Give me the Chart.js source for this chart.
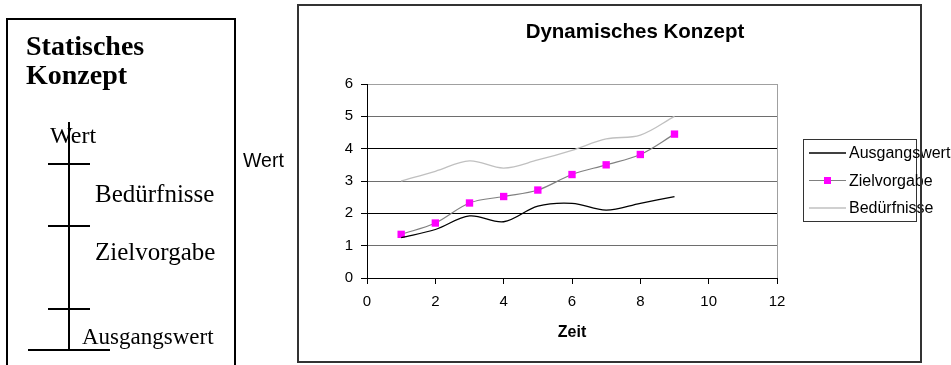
<!DOCTYPE html>
<html>
<head>
<meta charset="utf-8">
<script src="https://cdn.jsdelivr.net/npm/chart.js@4.4.0/dist/chart.umd.min.js"></script>
<style>
  html, body { margin: 0; padding: 0; background: #fff; }
  body { width: 951px; height: 365px; position: relative; overflow: hidden; }
  #chartCanvas { position: absolute; left: 0; top: 0; }
  #frame { position: absolute; left: 297px; top: 4px; width: 621px; height: 355px; border: 2px solid #333; pointer-events: none; }
  #staticBox { position: absolute; left: 6px; top: 18px; width: 226px; height: 400px; border: 2px solid #000; border-bottom: none; font-family: "Liberation Serif", "Times New Roman", serif; }
  .bar { position: absolute; background: #000; }
  .lbl { position: absolute; font-size: 24px; line-height: 24px; white-space: nowrap; color: #000; font-family: "Liberation Serif", "Times New Roman", serif; }
  #staticTitle { position: absolute; left: 18px; top: 11px; font-size: 28px; line-height: 29px; font-weight: bold; }
</style>
</head>
<body>
<canvas id="chartCanvas" width="951" height="365"></canvas>

<div id="staticBox">
  <div id="staticTitle">Statisches<br>Konzept</div>
</div>
<!-- statisches Diagramm -->
<div class="bar" style="left:68px; top:122px; width:2px; height:229px;"></div>
<div class="bar" style="left:48px; top:163px; width:42px; height:2px;"></div>
<div class="bar" style="left:48px; top:225px; width:42px; height:2px;"></div>
<div class="bar" style="left:48px; top:308px; width:42px; height:2px;"></div>
<div class="bar" style="left:28px; top:349px; width:82px; height:2px;"></div>
<div class="lbl" style="left:50px; top:123px;">Wert</div>
<div class="lbl" style="left:95px; top:182px; font-size:25px;">Bedürfnisse</div>
<div class="lbl" style="left:95px; top:240px; font-size:25px;">Zielvorgabe</div>
<div class="lbl" style="left:82px; top:325px; font-size:23px;">Ausgangswert</div>

<div id="frame"></div>

<script>
let zeit = [1, 2, 3, 4, 5, 6, 7, 8, 9];
let ausgangswert = [1.25, 1.5, 1.92, 1.74, 2.22, 2.31, 2.1, 2.31, 2.52];
let zielvorgabe = [1.35, 1.7, 2.32, 2.52, 2.72, 3.2, 3.5, 3.82, 4.45];
let beduerfnisse = [3.0, 3.3, 3.62, 3.4, 3.65, 3.95, 4.3, 4.42, 5.0];

let xTickValues = [0, 2, 4, 6, 8, 10, 12];
let yTickValues = [0, 1, 2, 3, 4, 5, 6];

let chartTitle = 'Dynamisches Konzept';
let xTitle = 'Zeit';
let yTitle = 'Wert';

let sans = '"Liberation Sans", Arial, sans-serif';

let toPoints = (values) => values.map((v, i) => ({x : zeit[i], y : v}));

// Titel, y-Achsentitel und Legende wie in Excel
let extras = {
    id : 'extras',
    afterDraw(chart) {
        let ctx = chart.ctx;
        let area = chart.chartArea;
        ctx.save();
        ctx.fillStyle = '#000';
        ctx.font = 'bold 20.5px ' + sans;
        ctx.textAlign = 'center';
        ctx.textBaseline = 'alphabetic';
        ctx.fillText(chartTitle, 635, 38);

        ctx.font = '19.5px ' + sans;
        ctx.textAlign = 'left';
        ctx.fillText(yTitle, area.left - 124, 167);

        // Legende
        let bx = area.right + 26, by = 139, bw = 113, bh = 82;
        ctx.strokeStyle = '#333';
        ctx.lineWidth = 1;
        ctx.strokeRect(bx + 0.5, by + 0.5, bw, bh);
        chart.data.datasets.forEach((ds, i) => {
            let y = by + 14 + i * 27.5;
            ctx.strokeStyle = ds.borderColor;
            ctx.lineWidth = ds.borderWidth;
            ctx.beginPath();
            ctx.moveTo(bx + 6, y);
            ctx.lineTo(bx + 43, y);
            ctx.stroke();
            if (ds.pointRadius > 0) {
                ctx.fillStyle = ds.pointBackgroundColor;
                ctx.fillRect(bx + 21, y - 3.5, 7, 7);
            }
            ctx.fillStyle = '#000';
            ctx.font = '16px ' + sans;
            ctx.textAlign = 'left';
            ctx.textBaseline = 'middle';
            ctx.fillText(ds.label, bx + 46, y + 1);
        });
        ctx.restore();
    }
};

let config = {
    type : 'line',
    data : {
        datasets : [{
            label : 'Ausgangswert',
            data : toPoints(ausgangswert),
            borderColor : '#000',
            borderWidth : 1.3,
            pointRadius : 0,
            tension : 0.35
        }, {
            label : 'Zielvorgabe',
            data : toPoints(zielvorgabe),
            borderColor : '#808080',
            borderWidth : 1.2,
            pointStyle : 'rect',
            pointRadius : 5.2,
            pointBackgroundColor : '#ff00ff',
            pointBorderColor : '#ff00ff',
            pointBorderWidth : 0,
            tension : 0.35
        }, {
            label : 'Bedürfnisse',
            data : toPoints(beduerfnisse),
            borderColor : '#c0c0c0',
            borderWidth : 1.3,
            pointRadius : 0,
            tension : 0.35
        }]
    },
    options : {
        responsive : false,
        animation : false,
        events : [],
        layout : {padding : {left : 267, right : 174, top : 84, bottom : 19}},
        plugins : {
            legend : {display : false},
            title : {display : false},
            tooltip : {enabled : false}
        },
        scales : {
            x : {
                type : 'linear',
                min : 0,
                max : 12,
                afterBuildTicks : (scale) => { scale.ticks = xTickValues.map(v => ({value : v})); },
                afterFit : (scale) => { scale.height = 68; },
                grid : {
                    drawOnChartArea : true,
                    color : (c) => (c.tick && c.tick.value === 12) ? '#a0a0a0' : 'rgba(0,0,0,0)',
                    tickColor : '#000',
                    tickLength : 6
                },
                border : {display : true, color : '#000', width : 1},
                ticks : {color : '#000', padding : 9, font : {family : sans, size : 15}},
                title : {display : true, text : xTitle, color : '#000', padding : {top : 0, bottom : 4},
                         font : {family : sans, size : 16, weight : 'bold'}}
            },
            y : {
                type : 'linear',
                min : 0,
                max : 6,
                afterBuildTicks : (scale) => { scale.ticks = yTickValues.map(v => ({value : v})); },
                afterFit : (scale) => { scale.width = 100; },
                grid : {
                    color : (c) => {
                        let v = c.tick ? c.tick.value : 0;
                        if (v === 6) return '#a0a0a0';
                        return v % 2 === 0 ? '#000' : '#6e6e6e';
                    },
                    tickColor : '#000',
                    tickLength : 6
                },
                border : {display : true, color : '#000', width : 1},
                ticks : {color : '#000', padding : 8, font : {family : sans, size : 15}}
            }
        }
    },
    plugins : [extras]
};

let chart = new Chart(document.getElementById('chartCanvas').getContext('2d'), config);
</script>
</body>
</html>
